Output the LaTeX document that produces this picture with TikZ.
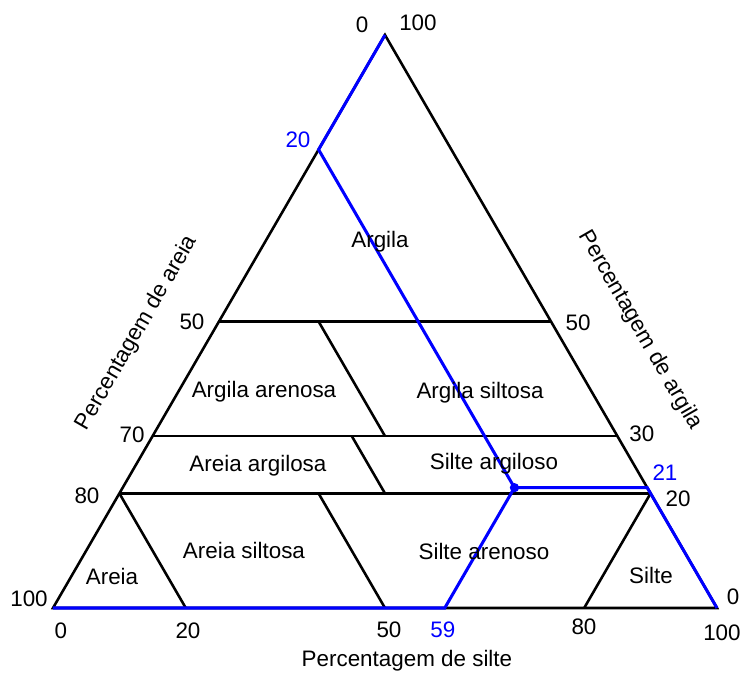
\documentclass[tikz,border=0pt]{standalone}
\usepackage{fontspec}
\setmainfont{Liberation Sans}
\tikzstyle{every path}=[line width=1.1pt]
\tikzstyle{every node}=[font=\fontsize{9.6}{11.5}\selectfont, inner sep=0pt]
\tikzstyle{classline}=[line width=1.6pt]
\tikzstyle{samplepath}=[line width=1.3pt, draw=sample]
\definecolor{sample}{RGB}{0,0,255}

\begin{document}
\begin{tikzpicture}
            \useasboundingbox (-0.798, -0.964) rectangle (10.377, 9.157);

            % corners and class limits
            \coordinate (sand) at (0, 0);
            \coordinate (silt) at (10, 0);
            \coordinate (clay) at (5, 8.63);
            \coordinate (left50) at (2.5, 4.315);
            \coordinate (right50) at (7.5, 4.315);
            \coordinate (left30) at (1.5, 2.589);
            \coordinate (right30) at (8.5, 2.589);
            \coordinate (left20) at (1, 1.726);
            \coordinate (right20) at (9, 1.726);
            \coordinate (sa35-top) at (4, 4.315);
            \coordinate (sa35-bot) at (5, 2.589);
            \coordinate (sa40-top) at (4.5, 2.589);
            \coordinate (sa40-bot) at (5, 1.726);
            \coordinate (sa50-top) at (4, 1.726);
            \coordinate (base20) at (2, 0);
            \coordinate (base50) at (5, 0);
            \coordinate (base80) at (8, 0);

            % sample point
            \coordinate (p) at (6.95, 1.812);
            \coordinate (p-sand) at (4, 6.904);
            \coordinate (p-clay) at (8.95, 1.812);
            \coordinate (p-silt) at (5.9, 0);

            \draw (sand) -- (silt) -- (clay) -- cycle;
            \draw[classline] (left50) -- (right50);
            \draw (left30) -- (right30);
            \draw[classline] (left20) -- (right20);
            \draw (sa35-top) -- (sa35-bot);
            \draw (sa40-top) -- (sa40-bot);
            \draw (left20) -- (base20);
            \draw (sa50-top) -- (base50);
            \draw (right20) -- (base80);

            \draw[samplepath] (clay) -- (p-sand) -- (p);
            \draw[samplepath] (silt) -- (p-clay) -- (p);
            \draw[samplepath] (sand) -- (p-silt) -- (p);
            \fill[sample] (p) circle (0.07);

            % left axis
            \node (t0) at (4.654, 8.780) {0};
            \node[text=sample] (t20) at (3.690, 7.048) {20};
            \node (t50) at (2.093, 4.307) {50};
            \node (t70) at (1.190, 2.605) {70};
            \node (t80) at (0.512, 1.687) {80};
            \node (t100) at (-0.361, 0.136) {100};
            \node[rotate=60] (sand-title) at (1.265, 4.142) {Percentagem de areia};

            % bottom axis
            \node (b0) at (0.120, -0.346) {0};
            \node (b20) at (2.033, -0.346) {20};
            \node (b50) at (5.060, -0.331) {50};
            \node[text=sample] (b59) at (5.873, -0.331) {59};
            \node (b80) at (7.997, -0.286) {80};
            \node (b100) at (10.075, -0.377) {100};
            \node (silt-title) at (5.331, -0.798) {Percentagem de silte};

            % right axis
            \node (r100) at (5.497, 8.810) {100};
            \node (r50) at (7.907, 4.292) {50};
            \node (r30) at (8.870, 2.620) {30};
            \node[text=sample] (r21) at (9.217, 2.033) {21};
            \node (r20) at (9.413, 1.642) {20};
            \node (r0) at (10.241, 0.166) {0};
            \node[rotate=-60] (clay-title) at (8.840, 4.187) {Percentagem de argila};

            % classes
            \node (argila) at (4.925, 5.512) {Argila};
            \node (argila-arenosa) at (3.178, 3.253) {Argila arenosa};
            \node (argila-siltosa) at (6.431, 3.238) {Argila siltosa};
            \node (areia-argilosa) at (3.087, 2.139) {Areia argilosa};
            \node (silte-argiloso) at (6.641, 2.169) {Silte argiloso};
            \node (areia-siltosa) at (2.876, 0.873) {Areia siltosa};
            \node (silte-arenoso) at (6.491, 0.858) {Silte arenoso};
            \node (areia) at (0.889, 0.482) {Areia};
            \node (silte) at (9.006, 0.497) {Silte};
        \end{tikzpicture}
\end{document}
